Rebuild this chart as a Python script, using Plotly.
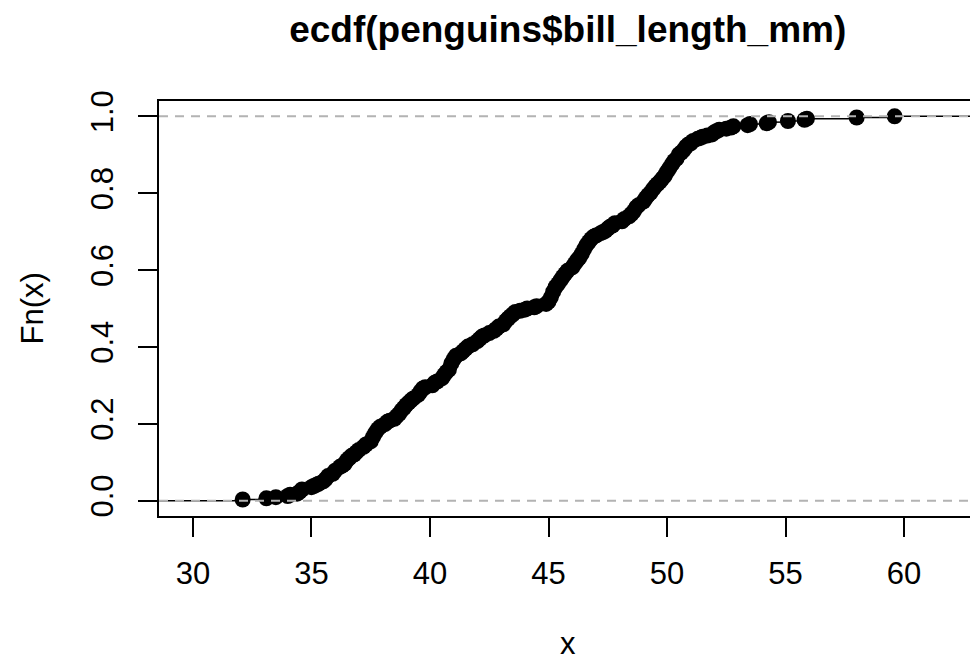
import plotly.graph_objects as go

title_text = "ecdf(penguins$bill_length_mm)"
x_label = "x"
y_label = "Fn(x)"
x_ticks = [30, 35, 40, 45, 50, 55, 60]
y_ticks = [0.0, 0.2, 0.4, 0.6, 0.8, 1.0]

bill_length = [
    32.1, 33.1, 33.5, 34.0, 34.1, 34.4, 34.5, 34.6, 35.0, 35.1, 35.2, 35.3, 35.5, 35.6, 35.7,
    35.9, 36.0, 36.2, 36.3, 36.4, 36.5, 36.6, 36.7, 36.8, 36.9, 37.0, 37.2, 37.3, 37.5, 37.6,
    37.7, 37.8, 37.9, 38.1, 38.2, 38.3, 38.5, 38.6, 38.7, 38.8, 38.9, 39.0, 39.1, 39.2, 39.3,
    39.5, 39.6, 39.7, 39.8, 40.1, 40.2, 40.3, 40.5, 40.6, 40.7, 40.8, 40.9, 41.0, 41.1, 41.3,
    41.4, 41.5, 41.6, 41.8, 42.0, 42.1, 42.2, 42.3, 42.5, 42.7, 42.8, 42.9, 43.1, 43.2, 43.3,
    43.4, 43.5, 43.6, 43.8, 44.0, 44.1, 44.4, 44.5, 44.9, 45.0, 45.1, 45.2, 45.3, 45.4, 45.5,
    45.6, 45.7, 45.8, 46.0, 46.1, 46.2, 46.3, 46.4, 46.5, 46.6, 46.7, 46.8, 46.9, 47.0, 47.2,
    47.3, 47.4, 47.5, 47.6, 47.7, 47.8, 48.1, 48.2, 48.4, 48.5, 48.6, 48.7, 48.8, 49.0, 49.1,
    49.2, 49.3, 49.4, 49.5, 49.6, 49.7, 49.8, 49.9, 50.0, 50.1, 50.2, 50.3, 50.4, 50.5, 50.6,
    50.7, 50.8, 50.9, 51.0, 51.1, 51.3, 51.4, 51.5, 51.7, 51.9, 52.0, 52.1, 52.2, 52.5, 52.7,
    52.8, 53.4, 53.5, 54.2, 54.3, 55.1, 55.8, 55.9, 58.0, 59.6,
]
fn_value = [
    0.003, 0.006, 0.009, 0.012, 0.015, 0.018, 0.023, 0.029, 0.035, 0.038, 0.041, 0.044, 0.050, 0.056, 0.064,
    0.070, 0.078, 0.088, 0.091, 0.096, 0.105, 0.111, 0.117, 0.120, 0.126, 0.132, 0.140, 0.146, 0.154, 0.166,
    0.177, 0.186, 0.192, 0.199, 0.205, 0.208, 0.213, 0.220, 0.226, 0.235, 0.241, 0.249, 0.255, 0.261, 0.266,
    0.275, 0.284, 0.292, 0.295, 0.300, 0.307, 0.310, 0.318, 0.327, 0.335, 0.341, 0.357, 0.368, 0.377, 0.383,
    0.389, 0.395, 0.401, 0.407, 0.415, 0.421, 0.427, 0.430, 0.436, 0.442, 0.447, 0.453, 0.459, 0.468, 0.474,
    0.480, 0.485, 0.491, 0.494, 0.497, 0.500, 0.503, 0.506, 0.512, 0.518, 0.529, 0.544, 0.556, 0.564, 0.573,
    0.582, 0.590, 0.598, 0.607, 0.616, 0.625, 0.632, 0.642, 0.654, 0.665, 0.673, 0.681, 0.687, 0.690, 0.696,
    0.699, 0.702, 0.708, 0.713, 0.716, 0.722, 0.727, 0.733, 0.740, 0.746, 0.753, 0.763, 0.769, 0.778, 0.787,
    0.795, 0.801, 0.810, 0.818, 0.824, 0.830, 0.838, 0.845, 0.856, 0.865, 0.875, 0.884, 0.890, 0.901, 0.906,
    0.912, 0.921, 0.927, 0.930, 0.936, 0.942, 0.944, 0.947, 0.950, 0.953, 0.959, 0.962, 0.965, 0.968, 0.971,
    0.974, 0.977, 0.980, 0.982, 0.985, 0.988, 0.991, 0.994, 0.997, 1.000,
]

x_range = [28.57, 62.78]
y_range = [-0.04, 1.04]

# horizontal step segments (verticals = FALSE)
seg_x, seg_y = [x_range[0], bill_length[0], None], [0.0, 0.0, None]
for i in range(len(bill_length)):
    x_end = bill_length[i + 1] if i + 1 < len(bill_length) else x_range[1]
    seg_x += [bill_length[i], x_end, None]
    seg_y += [fn_value[i], fn_value[i], None]

fig = go.Figure()
fig.add_trace(go.Scatter(x=seg_x, y=seg_y, mode="lines",
                         line=dict(color="black", width=1.5), hoverinfo="skip", showlegend=False))
fig.add_trace(go.Scatter(x=bill_length, y=fn_value, mode="markers",
                         marker=dict(color="black", size=16, line=dict(width=0)), showlegend=False))

for h in (0.0, 1.0):
    fig.add_shape(type="line", xref="paper", yref="y", x0=0, x1=1, y0=h, y1=h,
                  line=dict(color="#B3B3B3", width=2, dash="9px,7px"), layer="above")

font_family = "Liberation Sans, Arial, sans-serif"
fs = 31
fig.update_layout(
    width=970, height=664,
    margin=dict(l=159, r=0, t=101, b=148),
    paper_bgcolor="white", plot_bgcolor="white",
    font=dict(family=font_family, color="black", size=fs),
    title=dict(text="<b>" + title_text + "</b>", x=0.504, xref="paper", xanchor="center",
               y=1 - 29 / 664, yref="container", yanchor="middle",
               font=dict(size=37, family=font_family, color="black")),
    xaxis=dict(range=x_range, tickvals=x_ticks, ticktext=[str(v) for v in x_ticks],
               showgrid=False, zeroline=False, showline=True, mirror=True,
               linecolor="black", linewidth=2, ticks="outside", ticklen=19, tickwidth=2,
               tickcolor="black", tickfont=dict(size=fs), ticklabelstandoff=10),
    yaxis=dict(range=y_range, tickvals=y_ticks, ticktext=[f"{v:.1f}" for v in y_ticks],
               showgrid=False, zeroline=False, showline=True, mirror=False,
               linecolor="black", linewidth=2, ticks="outside", ticklen=19, tickwidth=2,
               tickcolor="black", tickangle=-90, tickfont=dict(size=fs), ticklabelstandoff=13),
    annotations=[
        dict(text=x_label, xref="paper", yref="paper", x=0.504, y=-147 / 415,
             xanchor="center", yanchor="bottom", showarrow=False, font=dict(size=fs)),
        dict(text=y_label, xref="paper", yref="paper", x=-(159 - 32) / 811, y=0.5,
             xanchor="center", yanchor="middle", showarrow=False, textangle=-90,
             font=dict(size=fs)),
    ],
)

fig.write_html("out.html")
